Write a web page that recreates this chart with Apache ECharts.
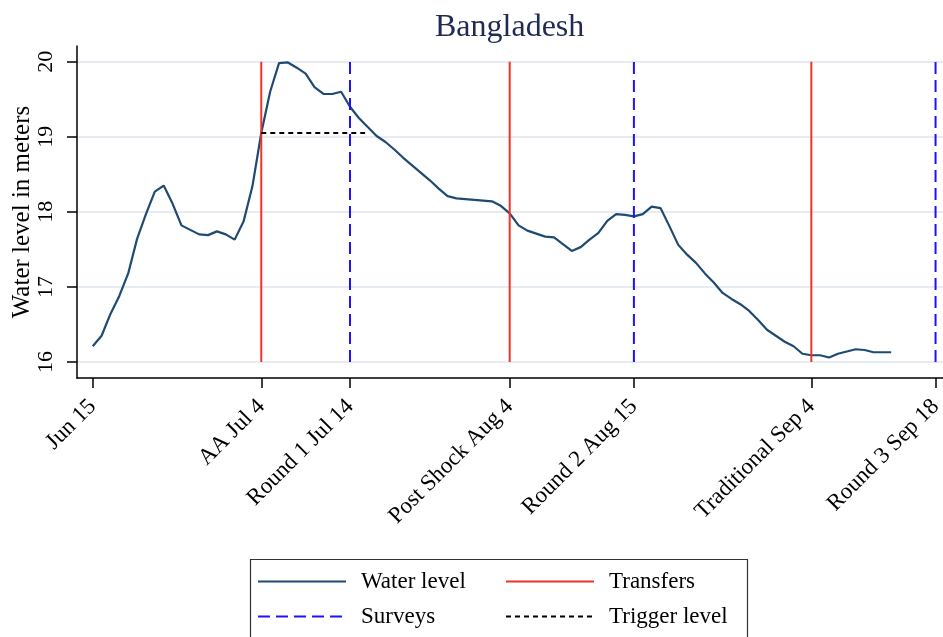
<!DOCTYPE html>
<html>
<head>
<meta charset="utf-8">
<script src="https://cdn.jsdelivr.net/npm/echarts/dist/echarts.min.js"></script>
<style>
  html, body { margin: 0; padding: 0; background: #fff; }
  #chart { width: 943px; height: 637px; }
</style>
</head>
<body>
<div id="chart"></div>
<script>
// daily water level (m), day 0 = Jun 15
const waterLevel = [
  16.21, 16.35, 16.64, 16.88, 17.18, 17.64, 17.97, 18.27, 18.35, 18.11,
  17.82, 17.76, 17.70, 17.69, 17.74, 17.70, 17.63, 17.87, 18.34, 19.05,
  19.60, 19.98, 19.99, 19.92, 19.84, 19.66, 19.57, 19.57, 19.60, 19.40,
  19.25, 19.13, 19.01, 18.93, 18.83, 18.72, 18.62, 18.52, 18.42, 18.31,
  18.21, 18.18, 18.17, 18.16, 18.15, 18.14, 18.08, 17.98, 17.82, 17.75,
  17.71, 17.67, 17.66, 17.57, 17.48, 17.53, 17.63, 17.72, 17.88, 17.97,
  17.96, 17.94, 17.97, 18.07, 18.05, 17.81, 17.56, 17.43, 17.32, 17.18,
  17.06, 16.92, 16.84, 16.77, 16.68, 16.56, 16.43, 16.35, 16.27, 16.21,
  16.11, 16.09, 16.09, 16.06, 16.11, 16.14, 16.17, 16.16, 16.13, 16.13,
  16.13
]

const transferDays = [19, 47, 81]
const surveyDays = [29, 61, 95]
const triggerLevel = 19.05
const triggerSpan = [19, 30.7]

const tickDays = [0, 19, 29, 47, 61, 81, 95]
const tickLabels = ['Jun 15', 'AA Jul 4', 'Round 1 Jul 14', 'Post Shock Aug 4',
  'Round 2 Aug 15', 'Traditional Sep 4', 'Round 3 Sep 18']
const yTicks = [16, 17, 18, 19, 20]

const serif = '"Liberation Serif", "DejaVu Serif", serif'

const chart = echarts.init(document.getElementById('chart'))

const vline = (name, d, color, type) => ({
  name: name,
  type: 'line',
  data: [[d, yTicks[0]], [d, yTicks[yTicks.length - 1]]],
  symbol: 'none',
  lineStyle: { color: color, width: 2, type: type },
  itemStyle: { color: color },
  silent: true
})

const series = [
  {
    name: 'Water level',
    type: 'line',
    data: waterLevel.map((v, i) => [i, v]),
    symbol: 'none',
    lineStyle: { color: '#1f4a72', width: 2.2 },
    itemStyle: { color: '#1f4a72' },
    z: 3
  }
]
transferDays.forEach(d => series.push(vline('Transfers', d, '#f0332a', 'solid')))
surveyDays.forEach(d => series.push(vline('Surveys', d, '#1f10ff', [12, 6])))
series.push({
  name: 'Trigger level',
  type: 'line',
  data: triggerSpan.map(d => [d, triggerLevel]),
  symbol: 'none',
  lineStyle: { color: '#000', width: 2, type: [5, 4] },
  itemStyle: { color: '#000' },
  z: 4
})

const legendItem = (name, left, top) => ({
  data: [name],
  left: left,
  top: top,
  padding: 0,
  itemWidth: 88,
  itemHeight: 14,
  selectedMode: false,
  itemStyle: { opacity: 0 },
  textStyle: { fontFamily: serif, fontSize: 23, color: '#000', padding: [0, 0, 0, 10] }
})

chart.setOption({
  animation: false,
  title: {
    text: 'Bangladesh',
    left: 430,
    top: 7,
    textStyle: { fontFamily: serif, fontSize: 32, fontWeight: 'normal', color: '#1f2a55' }
  },
  legend: [
    legendItem('Water level', 257, 570),
    legendItem('Surveys', 257, 605),
    legendItem('Transfers', 505, 570),
    legendItem('Trigger level', 505, 605)
  ],
  graphic: [{
    type: 'rect',
    left: 248,
    top: 557,
    shape: { width: 497, height: 100 },
    style: { fill: 'none', stroke: '#333', lineWidth: 1.2 },
    silent: true
  }],
  grid: { left: 77, top: 46, right: 0, bottom: 259, outerBoundsMode: 'none', containLabel: false },
  xAxis: {
    type: 'value',
    min: -1.77,
    max: 95.84,
    axisLine: { onZero: false, lineStyle: { color: '#000', width: 1.5 } },
    axisTick: { customValues: tickDays, length: 10, lineStyle: { color: '#000', width: 1.5 } },
    axisLabel: {
      customValues: tickDays,
      rotate: 45,
      margin: 25,
      fontFamily: serif,
      fontSize: 23,
      color: '#000',
      formatter: v => tickLabels[tickDays.indexOf(v)]
    },
    splitLine: { show: false }
  },
  yAxis: {
    type: 'value',
    min: 15.787,
    max: 20.209,
    name: 'Water level in meters',
    nameLocation: 'middle',
    nameGap: 42,
    nameMoveOverlap: false,
    nameTextStyle: { fontFamily: serif, fontSize: 25, color: '#000' },
    axisLine: { show: true, onZero: false, lineStyle: { color: '#000', width: 1.5 } },
    axisTick: { show: true, customValues: yTicks, length: 10, lineStyle: { color: '#000', width: 1.5 } },
    axisLabel: {
      customValues: yTicks,
      rotate: 90,
      margin: 20,
      fontFamily: serif,
      fontSize: 22,
      color: '#000'
    },
    splitLine: { show: true, lineStyle: { color: '#e6ecf1', width: 2 } }
  },
  series: series
})
</script>
</body>
</html>
